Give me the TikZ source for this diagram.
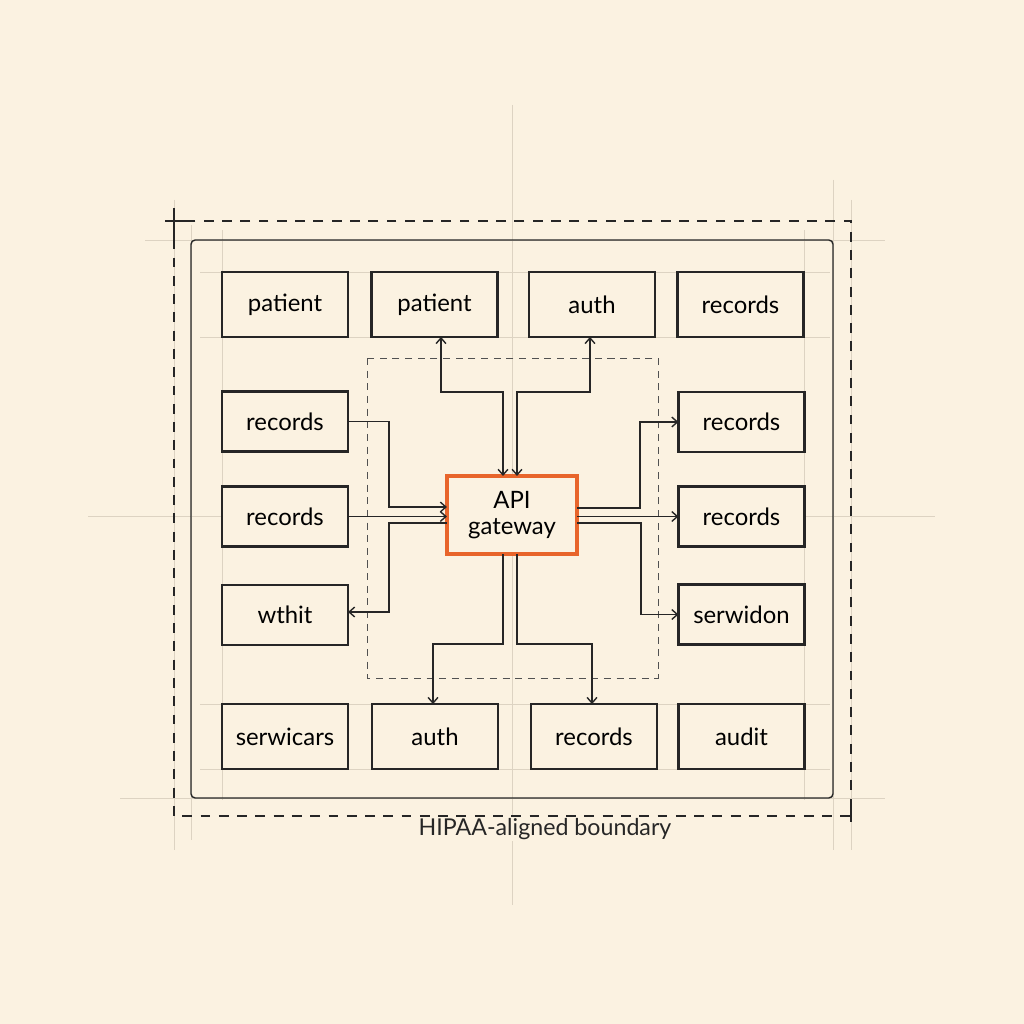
\documentclass[tikz,border=0pt]{standalone}
\usepackage{fontspec}
\setmainfont{Lato}
\usetikzlibrary{arrows.meta}
\definecolor{bg}{HTML}{FBF2E1}
\definecolor{ink}{HTML}{262626}
\definecolor{guide}{HTML}{DDD3C2}
\definecolor{gw}{HTML}{E8652B}
\tikzset{
  box/.style={draw=ink, line width=1.7pt, fill=bg, inner sep=0pt, outer sep=0pt,
    minimum width=3.15cm, font=\fontsize{17}{19}\selectfont, text=black},
  rowbox/.style={box, minimum height=1.62cm},
  colbox/.style={box, minimum height=1.5cm},
  gateway/.style={draw=gw, line width=2.5pt, fill=bg, inner sep=0pt, outer sep=0pt,
    minimum width=3.25cm, minimum height=1.95cm, align=center,
    font=\fontsize{17}{19}\selectfont},
  conn/.style={draw=ink, line width=1pt, arrows={-Straight Barb[length=4pt,width=7pt]}},
  conn2/.style={draw=ink, line width=1pt, arrows={Straight Barb[length=4pt,width=7pt]-Straight Barb[length=4pt,width=7pt]}},
  guideline/.style={draw=guide, line width=0.5pt},
  outerdash/.style={draw=ink, line width=1.3pt, dash pattern=on 7pt off 6pt},
  innerdash/.style={draw=ink!80, line width=0.7pt, dash pattern=on 5pt off 4pt},
  caption/.style={font=\fontsize{16.5}{18}\selectfont, text=ink, fill=bg, inner xsep=4pt, inner ysep=1pt}
}
\begin{document}
\begin{tikzpicture}[x=0.025cm, y=-0.025cm]
\fill[bg] (0,0) rectangle (1024,1024);
\useasboundingbox (0,0) rectangle (1024,1024);
% guide lines
\draw[guideline] (512,105) -- (512,905);
\draw[guideline] (88,516) -- (935,516);
\draw[guideline] (145,240) -- (885,240);
\draw[guideline] (120,798) -- (885,798);
\draw[guideline] (191,225) -- (191,840);
\draw[guideline] (833,180) -- (833,850);
\draw[guideline] (174,200) -- (174,850);
\draw[guideline] (851,200) -- (851,850);
\draw[guideline] (200,272) -- (830,272);
\draw[guideline] (200,337) -- (830,337);
\draw[guideline] (200,704) -- (830,704);
\draw[guideline] (200,769) -- (830,769);
\draw[guideline] (222,230) -- (222,800);
\draw[guideline] (804,230) -- (804,800);
% boundaries
\draw[outerdash] (174,221) rectangle (851,816);
\draw[ink, line width=1.5pt] (174,208) -- (174,240);
\draw[ink, line width=1.5pt] (165,221) -- (190,221);
\draw[ink, line width=1.5pt] (851,800) -- (851,822);
\draw[ink, line width=1pt, rounded corners=3pt] (191,240) rectangle (833,798);
\draw[innerdash] (367,358) rectangle (658,678);
% top row
\node[rowbox] (p1) at (285,304.5) {patient};
\node[rowbox] (p2) at (434.5,304.5) {patient};
\node[rowbox] (a1) at (592,304.5) {auth};
\node[rowbox] (r1) at (740.5,304.5) {records};
% left column
\node[colbox] (rl1) at (285,421.5) {records};
\node[colbox] (rl2) at (285,516.5) {records};
\node[colbox] (wt) at (285,615) {wthit};
% right column
\node[colbox] (rr1) at (741.5,422) {records};
\node[colbox] (rr2) at (741.5,516.5) {records};
\node[colbox] (sw) at (741.5,614.5) {serwidon};
% bottom row
\node[rowbox] (sv) at (285,736.5) {serwicars};
\node[rowbox] (a2) at (435,736.5) {auth};
\node[rowbox] (r6) at (594,736.5) {records};
\node[rowbox] (ad) at (741.5,736.5) {audit};
% gateway
\node[gateway] (g) at (512,515) {API\\gateway};
% caption
\node[caption] (cap) at (545,829) {HIPAA-aligned boundary};
% helper coordinates
\coordinate (cL) at (503,0);
\coordinate (cR) at (517,0);
\coordinate (t1) at (441,392);
\coordinate (t2) at (590,392);
\coordinate (b1) at (433,644);
\coordinate (b2) at (592,644);
\coordinate (l1) at (389,507);
\coordinate (l3) at (389,523);
\coordinate (l4) at (389,612);
\coordinate (q1) at (640,508);
\coordinate (q3) at (641,523);
% connectors
\draw[conn2] (t1 |- p2.south) -- (t1) -- (t1 -| cL) -- (g.north -| cL);
\draw[conn2] (t2 |- a1.south) -- (t2) -- (t2 -| cR) -- (g.north -| cR);
\draw[conn] (g.south -| cL) -- (b1 -| cL) -- (b1) -- (b1 |- a2.north);
\draw[conn] (g.south -| cR) -- (b2 -| cR) -- (b2) -- (b2 |- r6.north);
\draw[conn] (rl1.east) -| (l1) -- (l1 -| g.west);
\draw[conn] (rl2.east) -- (rl2.east -| g.west);
\draw[conn] (g.west |- l3) -- (l3) -- (l4) -- (l4 -| wt.east);
\draw[conn] (g.east |- q1) -- (q1) |- (rr1.west);
\draw[conn] (g.east |- rr2.west) -- (rr2.west);
\draw[conn] (g.east |- q3) -- (q3) |- (sw.west);
\end{tikzpicture}
\end{document}
